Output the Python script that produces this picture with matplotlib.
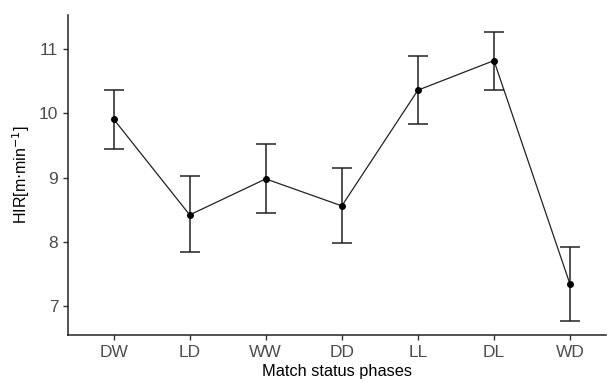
import numpy as np
from matplotlib import pyplot as plt

plt.rcParams['font.family'] = ['Liberation Sans', 'DejaVu Sans']

phases = ['DW', 'LD', 'WW', 'DD', 'LL', 'DL', 'WD']
hir_mean = [9.91, 8.42, 8.98, 8.56, 10.36, 10.82, 7.34]
hir_upper = [10.36, 9.02, 9.52, 9.15, 10.89, 11.27, 7.92]
hir_lower = [9.45, 7.85, 8.45, 7.99, 9.83, 10.37, 6.77]


def draw():
    x = np.arange(1, len(phases) + 1)
    mean = np.array(hir_mean)
    yerr = [mean - np.array(hir_lower), np.array(hir_upper) - mean]

    fig = plt.figure(figsize=(6.07, 3.83), dpi=100)
    ax = fig.add_axes([0.112, 0.125, 0.886, 0.836])

    ax.errorbar(x, mean, yerr=yerr, fmt='none', ecolor='#222222',
                elinewidth=1.1, capsize=7.5, capthick=1.1)
    ax.plot(x, mean, color='#222222', lw=0.9, marker='o', ms=4,
            mfc='black', mec='black')

    ax.set_xlim(0.4, 7.47)
    ax.set_ylim(6.55, 11.53)
    ax.set_xticks(x)
    ax.set_xticklabels(phases)
    ax.set_yticks([7, 8, 9, 10, 11])

    for side in ['top', 'right']:
        ax.spines[side].set_visible(False)
    for side in ['left', 'bottom']:
        ax.spines[side].set_linewidth(1.1)
        ax.spines[side].set_color('#222222')
    ax.tick_params(axis='both', colors='#333333', labelsize=12.5,
                   length=3.5, width=1.0, labelcolor='#4D4D4D')

    ax.set_xlabel('Match status phases', fontsize=11.8, labelpad=3)
    ax.set_ylabel(r'HIR[m$\cdot$min$^{-1}$]', fontsize=11.5, labelpad=5)

    fig.savefig('out.png', dpi=100)


if __name__ == '__main__':
    draw()
